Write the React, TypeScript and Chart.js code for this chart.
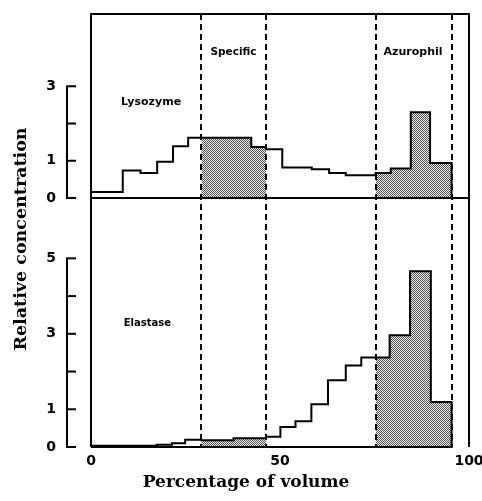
import React, { useEffect, useRef } from "react";
import { Chart, registerables } from "chart.js";

Chart.register(...registerables);

// ---- data ----
const xTickValues = [0, 50, 100];
const topTickValues = [0, 1, 2, 3];
const topTickLabels = ["0", "1", "", "3"];
const bottomTickValues = [0, 1, 2, 3, 4, 5];
const bottomTickLabels = ["0", "1", "", "3", "", "5"];

const lysozymeEdges = [0, 8.4, 13.1, 17.5, 21.7, 25.7, 29.2, 42.4, 46.3, 50.6, 58.4, 63.0, 67.4, 75.3, 79.3, 84.6, 89.7, 95.4];
const lysozymeValues = [0.16, 0.74, 0.67, 0.97, 1.39, 1.62, 1.62, 1.37, 1.31, 0.82, 0.77, 0.67, 0.61, 0.67, 0.79, 2.3, 0.94];

const elastaseEdges = [0, 17.4, 21.4, 24.9, 29.2, 37.7, 46.3, 50.1, 54.1, 58.3, 62.7, 67.4, 71.5, 75.3, 79.0, 84.4, 89.9, 95.4];
const elastaseValues = [0.03, 0.06, 0.1, 0.19, 0.18, 0.23, 0.27, 0.53, 0.68, 1.13, 1.77, 2.16, 2.37, 2.37, 2.96, 4.66, 1.19];

const specificRange = [29.2, 46.3];
const azurophilRange = [75.3, 95.4];
const boundaryLines = [29.2, 46.3, 75.3, 95.4];

const panelLabels = [
  { text: "Lysozyme", x: 15.9, y: 2.58, axis: "yTop", size: 11 },
  { text: "Specific", x: 37.7, y: 3.92, axis: "yTop", size: 10.5 },
  { text: "Azurophil", x: 85.2, y: 3.91, axis: "yTop", size: 11 },
  { text: "Elastase", x: 14.9, y: 3.27, axis: "yBot", size: 10 },
];

const X_TITLE = "Percentage of volume";
const Y_TITLE = "Relative concentration";

function stepPoints(edges: number[], values: number[]) {
  const pts = values.map((v, i) => ({ x: edges[i], y: v }));
  pts.push({ x: edges[edges.length - 1], y: 0 });
  return pts;
}

function regionPoints(edges: number[], values: number[], lo: number, hi: number) {
  const pts: { x: number; y: number }[] = [];
  for (let i = 0; i < values.length; i++) {
    const a = edges[i];
    const b = edges[i + 1];
    if (b <= lo + 1e-9 || a >= hi - 1e-9) continue;
    pts.push({ x: Math.max(a, lo), y: values[i] });
  }
  pts.push({ x: hi, y: 0 });
  return pts;
}

function makePattern(): CanvasPattern | string {
  const c = document.createElement("canvas");
  c.width = 2;
  c.height = 2;
  const g = c.getContext("2d");
  if (!g) return "#999";
  g.fillStyle = "#f0f0f0";
  g.fillRect(0, 0, 2, 2);
  g.fillStyle = "#505050";
  g.fillRect(0, 0, 1, 1);
  g.fillRect(1, 1, 1, 1);
  const p = g.createPattern(c, "repeat");
  return p || "#999";
}

const decorPlugin = {
  id: "decor",
  afterDatasetsDraw(chart: any) {
    const { ctx, chartArea, scales } = chart;
    const x = scales.x;
    const yTop = scales.yTop;
    const yBot = scales.yBot;
    ctx.save();
    ctx.strokeStyle = "#000";
    ctx.lineWidth = 2;
    // frame
    ctx.beginPath();
    ctx.moveTo(chartArea.left, chartArea.bottom);
    ctx.lineTo(chartArea.left, chartArea.top);
    ctx.lineTo(chartArea.right, chartArea.top);
    ctx.lineTo(chartArea.right, chartArea.bottom);
    ctx.stroke();
    // divider (top panel baseline)
    const y0 = yTop.getPixelForValue(0);
    ctx.beginPath();
    ctx.moveTo(chartArea.left, y0);
    ctx.lineTo(chartArea.right, y0);
    ctx.stroke();
    // dashed boundaries
    ctx.setLineDash([6, 4]);
    for (const v of boundaryLines) {
      const px = Math.round(x.getPixelForValue(v));
      ctx.beginPath();
      ctx.moveTo(px, chartArea.top);
      ctx.lineTo(px, chartArea.bottom);
      ctx.stroke();
    }
    ctx.setLineDash([]);
    // bracket y axes
    const bx = chartArea.left - 24;
    const drawBracket = (scale: any, vals: number[]) => {
      const yA = scale.getPixelForValue(vals[0]);
      const yB = scale.getPixelForValue(vals[vals.length - 1]);
      ctx.beginPath();
      ctx.moveTo(bx, yA);
      ctx.lineTo(bx, yB);
      ctx.stroke();
      for (const v of vals) {
        const py = scale.getPixelForValue(v);
        ctx.beginPath();
        ctx.moveTo(bx - 1, py);
        ctx.lineTo(bx + 9, py);
        ctx.stroke();
      }
    };
    drawBracket(yTop, topTickValues);
    drawBracket(yBot, bottomTickValues);
    // labels
    ctx.fillStyle = "#000";
    ctx.textAlign = "center";
    ctx.textBaseline = "middle";
    for (const l of panelLabels) {
      const sc = scales[l.axis];
      ctx.font = `bold ${l.size}px "DejaVu Sans"`;
      ctx.fillText(l.text, x.getPixelForValue(l.x), sc.getPixelForValue(l.y));
    }
    // titles
    ctx.textBaseline = "alphabetic";
    ctx.font = 'bold 17px "DejaVu Serif"';
    ctx.fillText(X_TITLE, 246, 487);
    ctx.font = 'bold 17.5px "DejaVu Serif"';
    ctx.translate(26, 239);
    ctx.rotate(-Math.PI / 2);
    ctx.fillText(Y_TITLE, 0, 0);
    ctx.restore();
  },
};

const tickFont = { family: "DejaVu Sans", size: 14, weight: "bold" };

export default function App() {
  const ref = useRef<HTMLCanvasElement | null>(null);
  useEffect(() => {
    const canvas = ref.current;
    if (!canvas) return;
    const pattern = makePattern();
    const shade = (data: any[], axis: string) => ({
      data,
      yAxisID: axis,
      stepped: true,
      borderWidth: 0,
      borderColor: "rgba(0,0,0,0)",
      backgroundColor: pattern,
      fill: "origin",
      pointRadius: 0,
      clip: false,
    });
    const outline = (data: any[], axis: string) => ({
      data,
      yAxisID: axis,
      stepped: true,
      borderWidth: 2,
      borderColor: "#000",
      fill: false,
      pointRadius: 0,
      clip: false,
    });
    const botOutline = stepPoints(elastaseEdges, elastaseValues);
    botOutline.push({ x: 0, y: 0 });
    const chart = new Chart(canvas, {
      type: "line",
      data: {
        datasets: [
          outline(stepPoints(lysozymeEdges, lysozymeValues), "yTop"),
          outline(botOutline, "yBot"),
          shade(regionPoints(lysozymeEdges, lysozymeValues, specificRange[0], specificRange[1]), "yTop"),
          shade(regionPoints(lysozymeEdges, lysozymeValues, azurophilRange[0], azurophilRange[1]), "yTop"),
          shade(regionPoints(elastaseEdges, elastaseValues, specificRange[0], specificRange[1]), "yBot"),
          shade(regionPoints(elastaseEdges, elastaseValues, azurophilRange[0], azurophilRange[1]), "yBot"),
        ] as any,
      },
      options: {
        responsive: false,
        animation: false,
        devicePixelRatio: 1,
        layout: { padding: { top: 14, right: 13, left: 0, bottom: 0 } },
        plugins: { legend: { display: false }, tooltip: { enabled: false } },
        elements: { line: { tension: 0 } },
        scales: {
          x: {
            type: "linear",
            min: 0,
            max: 100,
            grid: { display: false, drawTicks: false },
            border: { display: false },
            afterBuildTicks: (s: any) => {
              s.ticks = xTickValues.map((v) => ({ value: v }));
            },
            afterFit: (s: any) => {
              s.height = 54;
              s.paddingLeft = 0;
              s.paddingRight = 0;
            },
            ticks: {
              padding: 6,
              maxRotation: 0,
              autoSkip: false,
              color: "#000",
              font: tickFont,
              callback: (v: any) => String(v),
            },
          },
          yBot: {
            type: "linear",
            position: "left",
            stack: "panels",
            stackWeight: 249,
            min: 0,
            max: 6.6,
            grid: { display: false, drawTicks: false },
            border: { display: false },
            afterBuildTicks: (s: any) => {
              s.ticks = bottomTickValues.map((v) => ({ value: v }));
            },
            afterFit: (s: any) => {
              s.width = 91;
              s.paddingTop = 0;
              s.paddingBottom = 0;
            },
            ticks: {
              padding: 35,
              autoSkip: false,
              color: "#000",
              font: tickFont,
              callback: (v: any) => {
                const i = bottomTickValues.indexOf(v);
                return i >= 0 ? bottomTickLabels[i] : "";
              },
            },
          },
          yTop: {
            type: "linear",
            position: "left",
            stack: "panels",
            stackWeight: 184,
            min: 0,
            max: 4.94,
            grid: { display: false, drawTicks: false },
            border: { display: false },
            afterBuildTicks: (s: any) => {
              s.ticks = topTickValues.map((v) => ({ value: v }));
            },
            afterFit: (s: any) => {
              s.width = 91;
              s.paddingTop = 0;
              s.paddingBottom = 0;
            },
            ticks: {
              padding: 35,
              autoSkip: false,
              color: "#000",
              font: tickFont,
              callback: (v: any) => {
                const i = topTickValues.indexOf(v);
                return i >= 0 ? topTickLabels[i] : "";
              },
            },
          },
        },
      } as any,
      plugins: [decorPlugin],
    });
    return () => chart.destroy();
  }, []);
  return (
    <div style={{ position: "absolute", left: 0, top: 0, width: 482, height: 501, background: "#fff" }}>
      <canvas ref={ref} width={482} height={501} />
    </div>
  );
}
